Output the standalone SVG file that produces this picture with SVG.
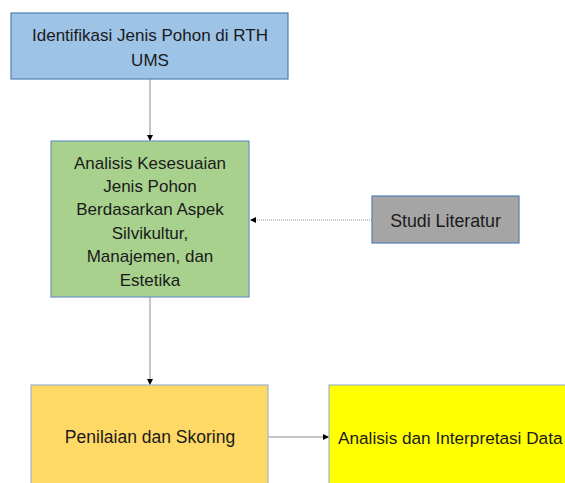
<svg xmlns="http://www.w3.org/2000/svg" width="565" height="483" viewBox="0 0 565 483">
<style>
text{font-family:"Liberation Sans",Arial,sans-serif;font-size:17px;fill:#1a1a1a;text-anchor:middle}
.box{stroke-width:1.2}
.conn{stroke:#8c8c8c;stroke-width:1;fill:none}
</style>
<defs>
<marker id="ah" markerWidth="6" markerHeight="6" refX="6" refY="3" orient="auto" markerUnits="userSpaceOnUse">
<path d="M0,0 L6,3 L0,6 Z" fill="#000"/>
</marker>
</defs>
<rect width="565" height="483" fill="#fff"/>
<g id="connectors">
<line class="conn" x1="150" y1="79" x2="150" y2="141" marker-end="url(#ah)"/>
<line class="conn" x1="372" y1="220" x2="250" y2="220" stroke-dasharray="1,1" marker-end="url(#ah)"/>
<line class="conn" x1="150" y1="297" x2="150" y2="385" marker-end="url(#ah)"/>
<line class="conn" x1="268" y1="437" x2="329" y2="437" marker-end="url(#ah)"/>
</g>
<g id="n1">
<rect class="box" x="11" y="13" width="277" height="66" fill="#9DC3E6" stroke="#4F7FAF"/>
<text x="150" y="41">Identifikasi Jenis Pohon di RTH</text>
<text x="150" y="65.5">UMS</text>
</g>
<g id="n2">
<rect class="box" x="51" y="141" width="198" height="156" fill="#A9D18E" stroke="#6C93C0"/>
<text x="150" y="168.5">Analisis Kesesuaian</text>
<text x="150" y="191.9">Jenis Pohon</text>
<text x="150" y="215.3">Berdasarkan Aspek</text>
<text x="150" y="238.7">Silvikultur,</text>
<text x="150" y="262.1">Manajemen, dan</text>
<text x="150" y="285.5">Estetika</text>
</g>
<g id="n3">
<rect class="box" x="372" y="196" width="147" height="47" fill="#A5A5A5" stroke="#4F7FB5"/>
<text x="445.5" y="226.5" style="font-size:17.8px">Studi Literatur</text>
</g>
<g id="n4">
<rect class="box" x="31" y="385" width="237" height="110" fill="#FFD966" stroke="#9DB3CC"/>
<text x="150" y="443" style="font-size:17.5px">Penilaian dan Skoring</text>
</g>
<g id="n5">
<rect class="box" x="329" y="385" width="250" height="110" fill="#FFFF00" stroke="#9DB3CC"/>
<text x="338" y="444" style="text-anchor:start;font-size:17.2px">Analisis dan Interpretasi Data</text>
</g>
</svg>
